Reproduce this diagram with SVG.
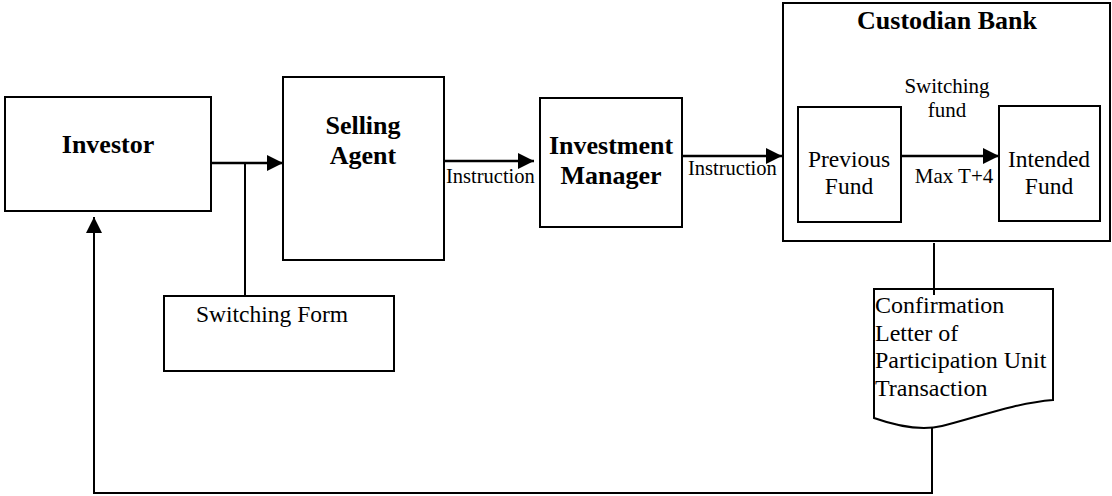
<svg xmlns="http://www.w3.org/2000/svg" width="1112" height="496" viewBox="0 0 1112 496">
<style>
text{font-family:'Liberation Serif','Times New Roman',Tinos,'DejaVu Serif',serif;fill:#000}
.box{fill:#fff;stroke:#000;stroke-width:2}
.b{font-weight:bold;font-size:26px;text-anchor:middle}
.r{font-size:23.5px;text-anchor:middle}
.s{font-size:21px;text-anchor:middle}
.i{font-size:20.5px}
.ln{fill:none;stroke:#000;stroke-width:2}
.ar{fill:none;stroke:#000;stroke-width:2.7}
</style>
<defs>
<marker id="ah" markerUnits="userSpaceOnUse" markerWidth="16" markerHeight="16" viewBox="0 0 16 16" refX="16" refY="8" orient="auto">
<path d="M0,0 L16,8 L0,16 Z" fill="#000"/>
</marker>
</defs>
<g id="investor">
<rect class="box" x="5" y="97" width="206" height="114"/>
<text class="b" x="108" y="153" font-family="Liberation Serif">Investor</text>
</g>
<g id="selling-agent">
<rect class="box" x="283" y="77" width="161" height="183"/>
<text class="b" x="363" y="134">Selling</text>
<text class="b" x="363" y="164">Agent</text>
</g>
<g id="switching-form">
<rect class="box" x="164" y="296" width="230" height="75"/>
<text class="r" x="196" y="322" style="text-anchor:start">Switching Form</text>
</g>
<g id="investment-manager">
<rect class="box" x="540" y="98" width="142" height="129"/>
<text class="b" x="611" y="154">Investment</text>
<text class="b" x="611" y="184">Manager</text>
</g>
<g id="custodian-bank">
<rect class="box" x="783" y="3" width="327" height="238"/>
<text class="b" x="947" y="29">Custodian Bank</text>
</g>
<g id="previous-fund">
<rect class="box" x="798" y="107" width="103" height="115"/>
<text class="r" x="849" y="167">Previous</text>
<text class="r" x="849" y="194">Fund</text>
</g>
<g id="intended-fund">
<rect class="box" x="999" y="106" width="101" height="115"/>
<text class="r" x="1049" y="167">Intended</text>
<text class="r" x="1049" y="194">Fund</text>
</g>
<g id="confirmation-letter">
<path class="box" d="M874,289 H1053 V400 C1015,403 975,418 942,426 C925,430 905,429 874,418 Z"/>
<text class="r" x="875" y="313" style="text-anchor:start;font-size:24px">Confirmation</text>
<text class="r" x="875" y="341" style="text-anchor:start;font-size:24px">Letter of</text>
<text class="r" x="875" y="368" style="text-anchor:start;font-size:24px">Participation Unit</text>
<text class="r" x="875" y="396" style="text-anchor:start;font-size:24px">Transaction</text>
</g>
<g id="connectors">
<line class="ar" x1="211" y1="163" x2="283" y2="163" marker-end="url(#ah)"/>
<line class="ln" x1="245" y1="163" x2="245" y2="296"/>
<line class="ar" x1="444" y1="161" x2="534" y2="161" marker-end="url(#ah)"/>
<text class="i" x="446" y="183">Instruction</text>
<line class="ar" x1="682" y1="156" x2="782" y2="156" marker-end="url(#ah)"/>
<text class="i" x="688" y="175">Instruction</text>
<line class="ar" x1="901" y1="156" x2="999" y2="156" marker-end="url(#ah)"/>
<text class="s" x="947" y="93">Switching</text>
<text class="s" x="947" y="117">fund</text>
<text class="s" x="954" y="183">Max T+4</text>
<line class="ln" x1="934" y1="243" x2="934" y2="295"/>
<polyline class="ln" points="932,428 932,493 94,493 94,217" marker-end="url(#ah)"/>
</g>
</svg>
